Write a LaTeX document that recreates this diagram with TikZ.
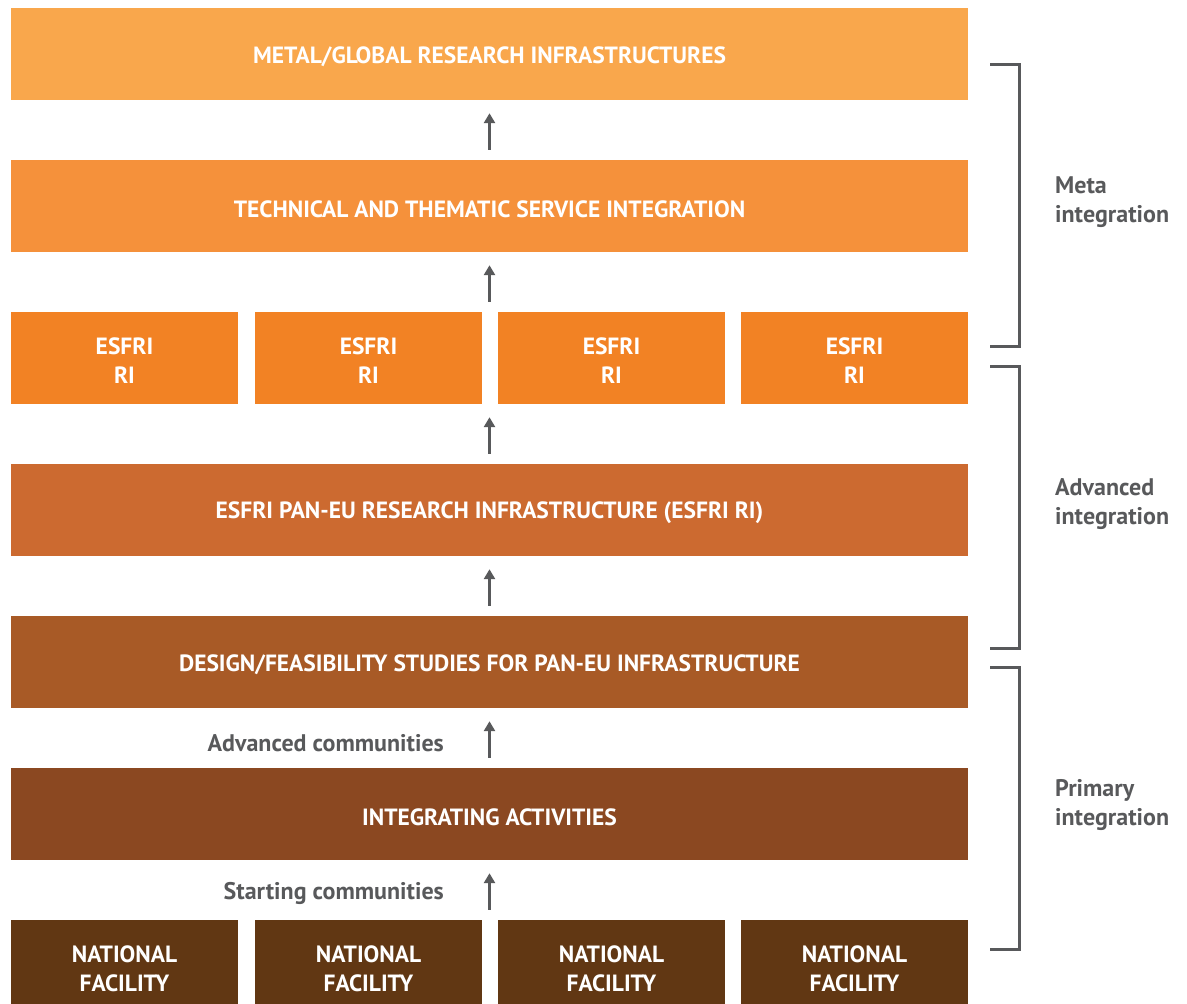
\documentclass[tikz,border=0pt]{standalone}
\usepackage{fontspec}
\setmainfont{PT Sans}
\usetikzlibrary{arrows.meta}
\definecolor{cA}{HTML}{F9A74C}
\definecolor{cB}{HTML}{F5913B}
\definecolor{cC}{HTML}{F28224}
\definecolor{cD}{HTML}{CC6A30}
\definecolor{cE}{HTML}{A85A26}
\definecolor{cF}{HTML}{8B4821}
\definecolor{cG}{HTML}{613713}
\definecolor{gr}{HTML}{58595B}
\tikzset{
  txt/.style={text=white, align=center, inner sep=0pt,
    font=\fontsize{23.5}{29}\selectfont\bfseries, yshift=-3pt},
  ntxt/.style={txt, yshift=-4pt},
  box/.style={rectangle, inner sep=0pt, minimum height=92pt},
  wide/.style={box, minimum width=957pt, label={[txt]center:#1}},
  small/.style={box, minimum width=227pt, label={[txt]center:#1}},
  nat/.style={box, minimum width=227pt, minimum height=84pt, label={[ntxt]center:#1}},
  arr/.style={draw=gr, line width=3pt, -{Triangle[length=10pt,width=11pt]},
    shorten <=10pt, shorten >=13pt},
  brk/.style={draw=gr, line width=3pt},
  lbl/.style={text=gr, font=\fontsize{24}{29}\selectfont\bfseries, inner sep=0pt}
}
\begin{document}
\begin{tikzpicture}[x=1pt,y=-1pt]
\useasboundingbox (0,0) rectangle (1187,1004);
\node[wide={METAL/GLOBAL RESEARCH INFRASTRUCTURES}, fill=cA] (top) at (489.5,54) {};
\node[wide={TECHNICAL AND THEMATIC SERVICE INTEGRATION}, fill=cB] (tech) at (489.5,206) {};
\node[small={ESFRI\\RI}, fill=cC] (e1) at (124.5,358) {};
\node[small={ESFRI\\RI}, fill=cC] (e2) at (368.5,358) {};
\node[small={ESFRI\\RI}, fill=cC] (e3) at (611.5,358) {};
\node[small={ESFRI\\RI}, fill=cC] (e4) at (854.5,358) {};
\node[wide={ESFRI PAN-EU RESEARCH INFRASTRUCTURE (ESFRI RI)}, fill=cD] (pan) at (489.5,510) {};
\node[wide={DESIGN/FEASIBILITY STUDIES FOR PAN-EU INFRASTRUCTURE}, fill=cE] (des) at (489.5,662) {};
\node[wide={INTEGRATING ACTIVITIES}, fill=cF] (ia) at (489.5,814) {};
\node[nat={NATIONAL\\FACILITY}, fill=cG] (n1) at (124.5,962) {};
\node[nat={NATIONAL\\FACILITY}, fill=cG] (n2) at (368.5,962) {};
\node[nat={NATIONAL\\FACILITY}, fill=cG] (n3) at (611.5,962) {};
\node[nat={NATIONAL\\FACILITY}, fill=cG] (n4) at (854.5,962) {};

\draw[arr] (tech.north) -- (top.south);
\draw[arr] (tech.south |- e1.north) -- (tech.south);
\draw[arr] (pan.north) -- (pan.north |- e1.south);
\draw[arr] (des.north) -- (pan.south);
\draw[arr] (ia.north) -- (des.south);
\draw[arr] (ia.south |- n1.north) -- (ia.south);

\node[lbl, anchor=east] (adv) at (444,743) {Advanced communities};
\node[lbl, anchor=east] (sta) at (444,893) {Starting communities};

\draw[brk] (990,64) -- (1019,64) -- (1019,346) -- (990,346);
\draw[brk] (990,366) -- (1019,366) -- (1019,648) -- (990,648);
\draw[brk] (990,667) -- (1019,667) -- (1019,949) -- (990,949);

\node[lbl, anchor=west, align=left] (meta) at (1055,202) {Meta\\integration};
\node[lbl, anchor=west, align=left] (advi) at (1055,504) {Advanced\\integration};
\node[lbl, anchor=west, align=left] (prim) at (1055,805) {Primary\\integration};
\end{tikzpicture}
\end{document}
